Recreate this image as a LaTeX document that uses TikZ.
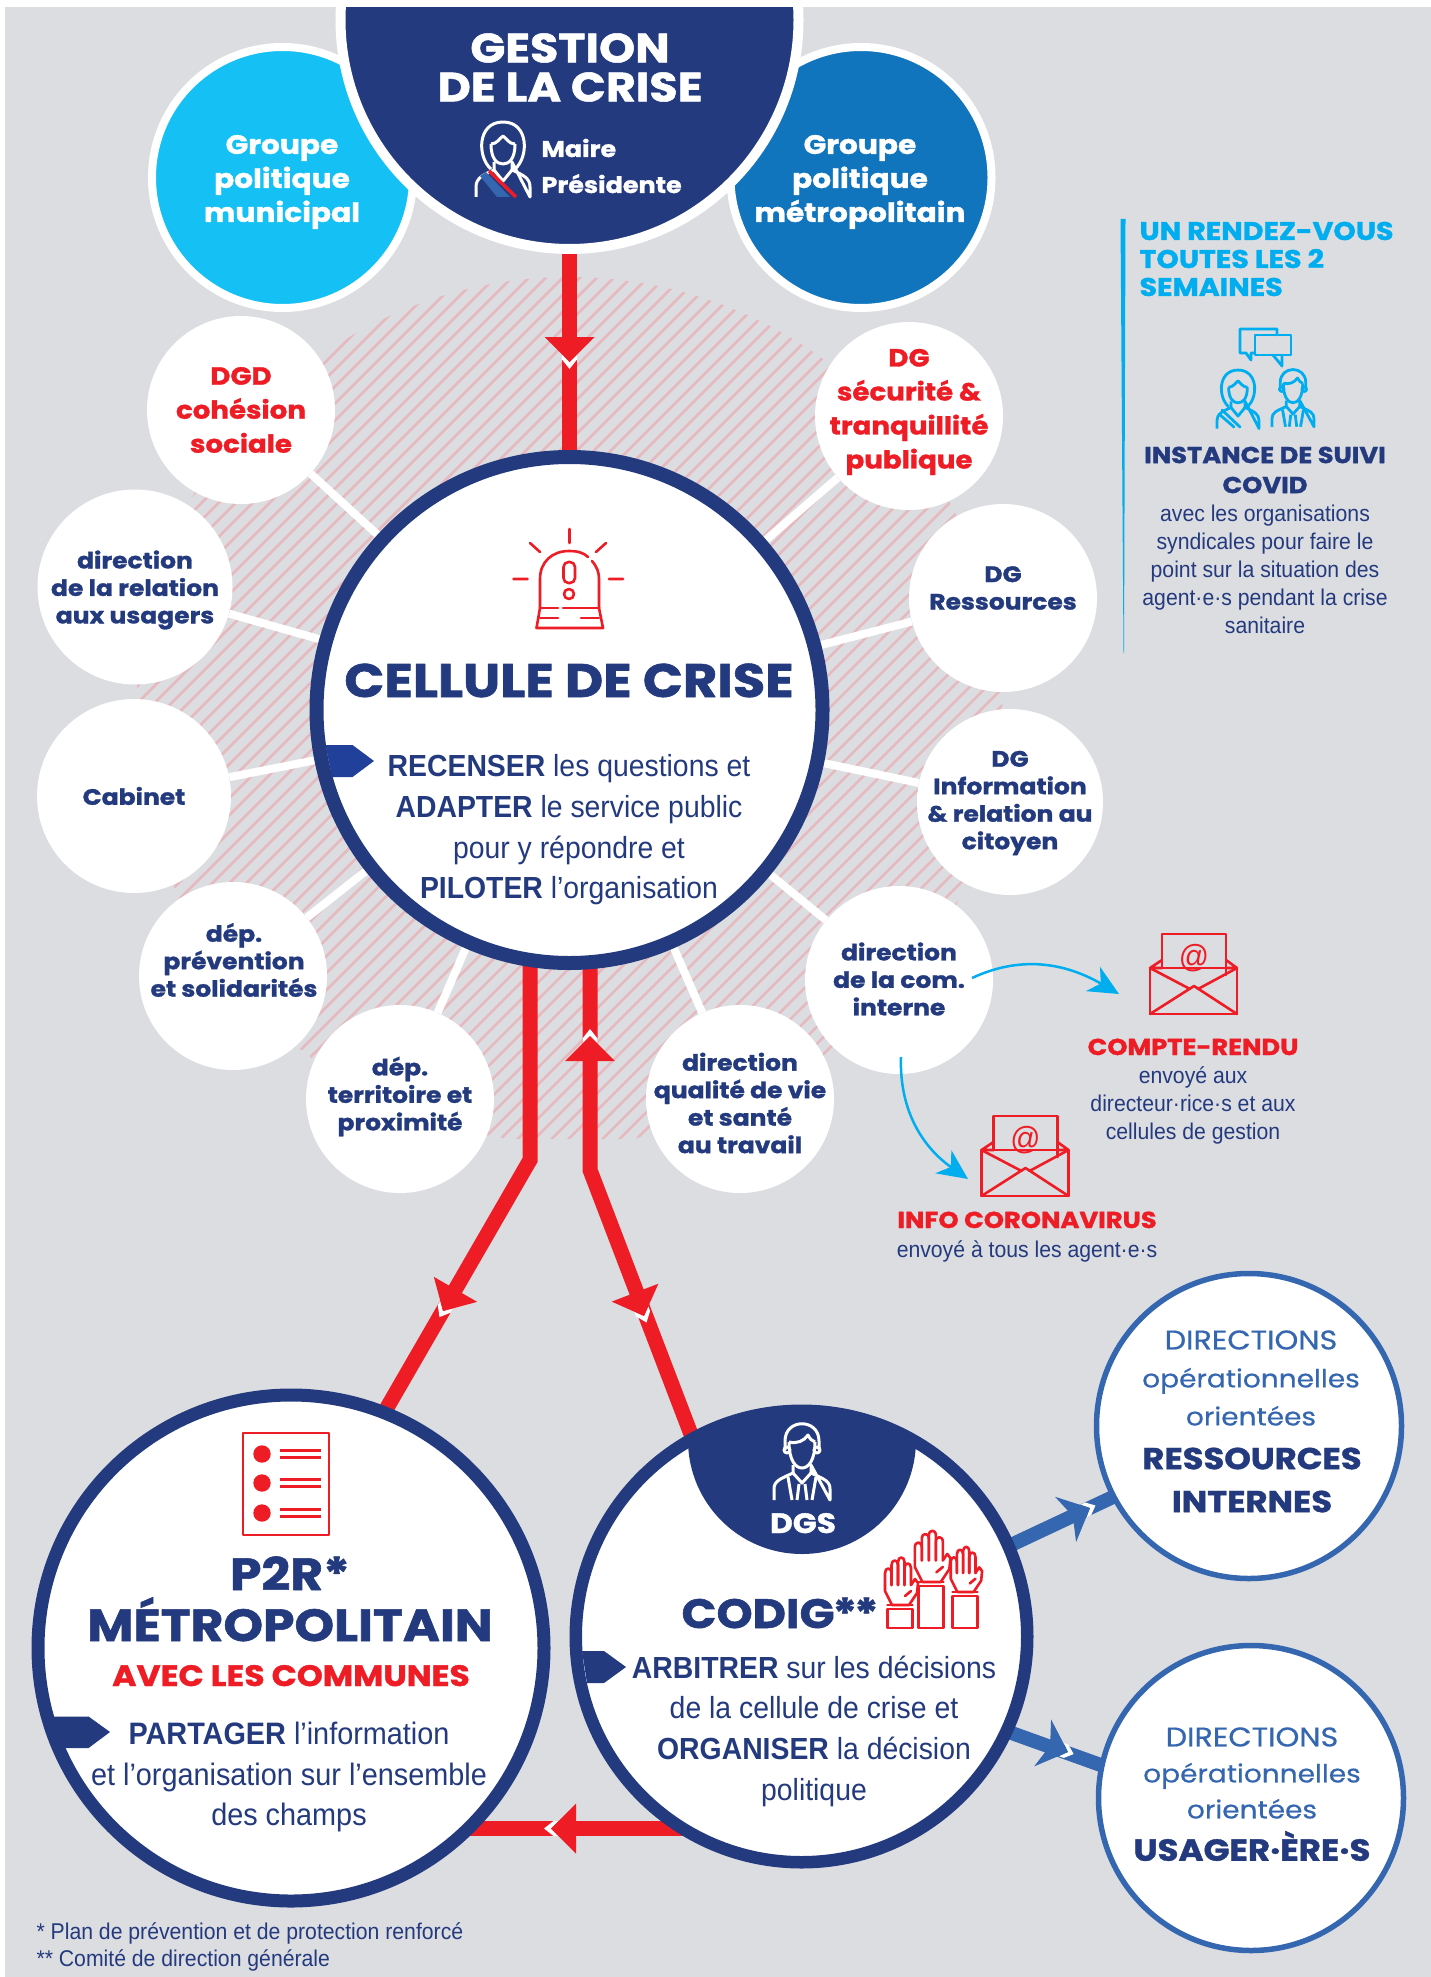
\documentclass[tikz,border=0pt]{standalone}
\usepackage{fontspec}
\setmainfont[FakeStretch=0.93]{Liberation Sans}
\newfontfamily\headfam[FakeStretch=1.12,BoldFeatures={FakeBold=1.3}]{Poppins}
\newfontfamily\mediumfam[FakeStretch=1.12,FakeBold=0.5]{Poppins}
\usetikzlibrary{arrows.meta}
\definecolor{navyc}{HTML}{243A7E}
\definecolor{redc}{HTML}{EE1C25}
\definecolor{skyc}{HTML}{14C0F4}
\definecolor{bluec}{HTML}{1075BD}
\definecolor{ringc}{HTML}{3566B0}
\definecolor{bgc}{HTML}{DCDDE1}
\definecolor{cyanc}{HTML}{00AEEF}
\definecolor{hatchc}{HTML}{E5B9BE}
\definecolor{tagc}{HTML}{21409A}
\newcommand{\heavyfont}[2]{\headfam\bfseries\fontsize{#1}{#2}\selectfont}
\newcommand{\lightfont}[2]{\mediumfam\fontsize{#1}{#2}\selectfont}
\newcommand{\bodyfont}[2]{\fontsize{#1}{#2}\selectfont}
\pgfdeclarelayer{under}
\pgfsetlayers{under,main}
\tikzset{
	topcircle/.style={circle, draw=white, line width=8, minimum size=261, inner sep=0},
	toplabel/.style={text=white, align=center, font=\heavyfont{26.5}{34}},
	smallnode/.style={circle, fill=white, minimum size=188, inner sep=0},
	navylabel/.style={text=navyc, align=center, font=\heavyfont{22.3}{27.5}},
	redlabel/.style={text=redc, align=center, font=\heavyfont{24.7}{34}},
	bignode/.style={circle, draw=navyc, fill=white, line width=14, minimum size=506, inner sep=0},
	dirnode/.style={circle, draw=ringc, fill=white, line width=5.5, minimum size=305, inner sep=0},
	bodytext/.style={text=navyc, align=center, font=\bodyfont{30.5}{40.7}},
	smalltext/.style={text=navyc, align=center, font=\bodyfont{22.8}{28}},
	redline/.style={draw=redc, line width=15, line join=miter},
	blueline/.style={draw=ringc, line width=14},
	spoke/.style={draw=white, line width=8},
	redicon/.style={draw=redc, line width=2.6, line cap=round, line join=round},
	cyanicon/.style={draw=cyanc, line width=2.8, line cap=round, line join=round},
	cyanarrow/.style={draw=cyanc, line width=2.5, -{Stealth[length=30pt,width=28pt,inset=9pt]}},
	redhead/.pic={
		\fill[white] (0,0)--(-7.5,-7.5)--(-2.5,-7.5)--(7,0)--(-2.5,7.5)--(-7.5,7.5)--cycle;
		\fill[redc] (0,0)--(-25,-25)--(-25,25)--cycle;
	},
	bluehead/.pic={
		\fill[white] (0,0)--(-7,-7)--(-2,-7)--(6,0)--(-2,7)--(-7,7)--cycle;
		\fill[ringc] (0,0)--(-27,-25)--(-19,0)--(-27,25)--cycle;
	},
	envelope/.pic={
		\draw[redicon] (-44,-18) rectangle (43,28);
		\draw[redicon] (-32,-18)--(-32,-52)--(32,-52)--(32,-11);
		\draw[redicon] (-44,-18)--(-4,3) (43,-18)--(4,3);
		\draw[redicon] (-44,28)--(0,0)--(43,28);
		\draw[redicon] (-44,-18)--(-32,-26) (43,-18)--(32,-26) (-40,-18)--(-32,-18) (39,-18)--(32,-18);
		\node[text=redc, font=\bodyfont{32}{32}] (-at) at (0,-28) {@};
	},
	manicon/.pic={
		\draw[pic actions] (-13,-5) .. controls (-13,14) and (-6,21) .. (0,21) .. controls (6,21) and (13,14) .. (13,-5);
		\draw[pic actions] (-17,3)--(-17,-6) .. controls (-17,-29) and (17,-29) .. (17,-6)--(17,3);
		\draw[pic actions] (-13,-5) .. controls (-5,-3) and (2,-6) .. (6,-12) .. controls (8,-8) and (10,-6) .. (13,-5);
		\draw[pic actions] (-15,3) circle (3) (15,3) circle (3);
		\draw[pic actions] (-28,53)--(-28,42) .. controls (-28,34) and (-22,32) .. (-9,26)--(-9,18) (9,18)--(9,26) .. controls (22,32) and (28,34) .. (28,42)--(28,53)--cycle;
		\draw[pic actions] (-9,26)--(0,36)--(9,26) (-3,37)--(-5,53) (3,37)--(5,53) (-14,30)--(-10,53) (14,30)--(10,53);
	},
	womanicon/.pic={
		\draw[pic actions] (-12,24) .. controls (-26,12) and (-26,-23) .. (0,-23) .. controls (26,-23) and (26,12) .. (12,24);
		\draw[pic actions] (-12,-1) .. controls (-12,14) and (-6,19) .. (0,19) .. controls (6,19) and (12,14) .. (12,-1);
		\draw[pic actions] (-12,-1) .. controls (-6,-1) and (-3,-7) .. (0,-9) .. controls (3,-7) and (6,-1) .. (12,-1);
		\draw[pic actions] (-27,52)--(-27,42) .. controls (-27,33) and (-20,30) .. (-9,25)--(-9,17) (9,17)--(9,25) .. controls (20,30) and (27,33) .. (27,42)--(27,52)--cycle;
		\draw[pic actions] (-9,25)--(0,36)--(9,25);
	},
	handicon/.pic={
		\foreach \fa/\fh in {-15/-32,-8.5/-40,-2/-43,4.5/-37}{
			\draw[redicon] (\fa,-20)--(\fa,\fh) .. controls (\fa,\fh-6) and ({\fa+6.5},\fh-6) .. ({\fa+6.5},\fh)--({\fa+6.5},-20);
		}
		\draw[redicon] (-15,-20)--(-15,-14)--(-8,0)--(9,0)--(17,-12)--(18,-22)--(15,-26)--(11,-20);
		\draw[redicon] (11,-14)--(5,-9);
	}
}
\begin{document}
\begin{tikzpicture}[x=1pt, y=-1pt, line join=round, >=stealth]
	\useasboundingbox (0,0) rectangle (1431,1977);

	\node[topcircle, fill=skyc] (municipal) at (282.5,177.5) {};
	\node[topcircle, fill=bluec] (metro) at (861,177.5) {};
	\node[toplabel] (municipaltext) at (282,182) {Groupe\\politique\\municipal};
	\node[toplabel] (metrotext) at (860,182) {Groupe\\politique\\métropolitain};
	\node[circle, draw=white, fill=navyc, line width=10, minimum size=458, inner sep=0] (gestion) at (569.5,20) {};
	\fill[white] (0,0) rectangle (1431,7);
	\node[text=white, align=center, font=\heavyfont{41}{39}] (gestiontitle) at (570,67.5) {GESTION\\DE LA CRISE};
	\node[anchor=base west, text=white, font=\heavyfont{22.7}{22}] (maire) at (538,157) {Maire};
	\node[anchor=base west, text=white, font=\heavyfont{22.7}{22}] (presidente) at (538,193) {Présidente};
	\pic[draw=white, line width=3] (maireicon) at (503,145) {womanicon};
	\fill[ringc] (480,176)--(486,172)--(510,197)--(497,197)--cycle;
	\draw[redc, line width=3.5] (489,171)--(516,197);

	\node[smallnode] (dgd) at (241,410) {};
	\node[smallnode] (securite) at (909,416) {};
	\node[smallnode, minimum size=195] (relation) at (135,587) {};
	\node[smallnode] (ressources) at (1003,598) {};
	\node[smallnode, minimum size=194] (cabinet) at (134,796) {};
	\node[smallnode, minimum size=186] (information) at (1010,802) {};
	\node[smallnode] (prevention) at (233,976) {};
	\node[smallnode] (cominterne) at (899,980) {};
	\node[smallnode] (territoire) at (400,1099) {};
	\node[smallnode] (qualite) at (740,1099) {};

	\node[redlabel] (dgdtext) at (241,410) {DGD\\cohésion\\sociale};
	\node[redlabel] (securitetext) at (909,412) {DG\\sécurité \&\\tranquillité\\publique};
	\node[navylabel] (relationtext) at (135,590) {direction\\de la relation\\aux usagers};
	\node[navylabel] (ressourcestext) at (1003,588) {DG\\Ressources};
	\node[navylabel] (cabinettext) at (134,796) {Cabinet};
	\node[navylabel] (informationtext) at (1010,803) {DG\\Information\\\& relation au\\citoyen};
	\node[navylabel] (preventiontext) at (234,960) {dép.\\prévention\\et solidarités};
	\node[navylabel] (cominternetext) at (899,979) {direction\\de la com.\\interne};
	\node[navylabel] (territoiretext) at (400,1096.5) {dép.\\territoire et\\proximité};
	\node[navylabel] (qualitetext) at (740,1103) {direction\\qualité de vie\\et santé\\au travail};

	\node[bignode] (cellule) at (569.5,710) {};
	\node[bignode, line width=13] (p2r) at (291,1648) {};
	\node[bignode, line width=12.5, minimum size=451.5] (codig) at (801.5,1636.5) {};
	\node[dirnode] (dirressources) at (1249,1426) {};
	\node[dirnode] (dirusagers) at (1251,1798) {};

	\coordinate (leftstart) at (530,940);
	\coordinate (leftbend) at (530,1160);
	\coordinate (leftend) at (377.6,1424);
	\coordinate (rightstart) at (590,940);
	\coordinate (rightbend) at (590,1170);
	\coordinate (rightend) at (697,1450);
	\coordinate (hbarright) at (700,1828.5);
	\coordinate (hbarleft) at (400,1828.5);

	\begin{pgfonlayer}{under}
		\fill[bgc] (5,7) rectangle (1431,1977);
		\begin{scope}
			\clip (569.5,710) circle (433);
			\clip (100,250) rectangle (1040,1138);
			\foreach \i in {-1000,-983,...,1000}{
				\draw[hatchc, line width=2.5] ({569.5+\i-450},1160)--({569.5+\i+450},260);
			}
		\end{scope}
		\foreach \n in {dgd,securite,relation,ressources,cabinet,information,prevention,cominterne,territoire,qualite}{
			\draw[spoke] (cellule)--(\n);
		}
		\draw[redline] (gestion)--(cellule);
		\draw[redline] (leftstart)--(leftbend)--(leftend);
		\draw[redline] (rightstart)--(rightbend)--(rightend);
		\draw[redline] (hbarright)--(hbarleft);
		\draw[blueline] ([yshift=-7]codig.center)--([yshift=-7]dirressources.center);
		\draw[blueline] ([yshift=-21]codig.center)--([yshift=-21]dirusagers.center);
	\end{pgfonlayer}

	\pic at (569.5,362) [rotate=-90] {redhead};
	\pic at (590,1036) [rotate=90] {redhead};
	\pic at (443,1311) [rotate=-120] {redhead};
	\pic at (644,1316) [rotate=-69] {redhead};
	\pic at (551,1828.5) [rotate=180] {redhead};
	\pic at (1090,1508) [rotate=25] {bluehead};
	\pic at (1068,1752) [rotate=-19.8] {bluehead};

	\draw[redicon] (569.5,529)--(569.5,543) (530,543)--(540,552) (606,543)--(596,552) (513.5,579)--(527.5,579) (609,579)--(623,579);
	\draw[redicon] (540,608)--(540,579) .. controls (540,562) and (552,551) .. (569,551) .. controls (578,551) and (584,553) .. (588,557);
	\draw[redicon] (592,561) .. controls (597,567) and (599,572) .. (599,579)--(599,608);
	\draw[redicon] (540,608)--(536.5,628)--(603,628)--(599,608);
	\draw[redicon] (540,608)--(558,608) (563,608)--(599,608) (540,618)--(558,618) (581,618)--(599,618);
	\draw[redicon, rounded corners=5] (563.5,583)--(563.5,562)--(575,562)--(575,583)--cycle;
	\draw[redicon] (569,594) circle (5);
	\node[text=navyc, font=\heavyfont{47}{47}, anchor=base] (celluletitle) at (569,697) {CELLULE DE CRISE};
	\fill[tagc] (325.5,745)--(352.5,745)--(374,761)--(352.5,777)--(332,777)--cycle;
	\node[bodytext] (cellulebody) at (569,830) {\textbf{RECENSER} les questions et\\\textbf{ADAPTER} le service public\\pour y répondre et\\\textbf{PILOTER} l’organisation};

	\draw[redicon] (243,1433) rectangle (329,1535);
	\foreach \ly in {1454,1483,1513}{
		\fill[redc] (262,\ly) circle (8.7);
		\draw[redc, line width=2.6] (280,\ly-3.5)--(321,\ly-3.5) (280,\ly+3.5)--(321,\ly+3.5);
	}
	\node[text=navyc, font=\heavyfont{45}{45}, anchor=base] (p2rtitle) at (290,1590) {P2R*};
	\node[text=navyc, font=\heavyfont{45}{45}, anchor=base] (p2rmetro) at (290,1641) {MÉTROPOLITAIN};
	\node[text=redc, font=\heavyfont{29.5}{30}, anchor=base] (p2rcommunes) at (291,1686) {AVEC LES COMMUNES};
	\fill[navyc] (51,1716.5)--(88.6,1716.5)--(110,1732)--(88.6,1748)--(62,1748)--cycle;
	\node[bodytext, font=\bodyfont{31}{40.7}] (p2rbody) at (289,1777) {\textbf{PARTAGER} l’information\\et l’organisation sur l’ensemble\\des champs};

	\begin{scope}
		\clip (801.5,1636.5) circle (226);
		\fill[navyc] (802,1440) circle (114);
	\end{scope}
	\pic[draw=white, line width=3] (dgsicon) at (802,1447) {manicon};
	\node[text=white, font=\heavyfont{28}{27}, anchor=base] (dgs) at (803,1533) {DGS};
	\node[text=navyc, font=\heavyfont{41}{42}, anchor=base west] (codigtitle) at (678,1628) {CODIG\kern-2pt*\kern-3pt*};
	\foreach \hx/\hy/\hs in {900/1605/1,931/1582/1.08,965/1592/0.95}{
		\pic[scale=\hs] at (\hx,\hy) {handicon};
		\draw[redicon] ({\hx-12.5},\hy+4) rectangle ({\hx+12.5},1628);
		\draw[redicon] ({\hx-12.5},\hy) -- ({\hx+12.5},\hy);
	}
	\fill[navyc] (582,1651)--(604,1651)--(626,1667)--(604,1683)--(587,1683)--cycle;
	\node[bodytext] (codigbody) at (814,1731) {\textbf{ARBITRER} sur les décisions\\de la cellule de crise et\\\textbf{ORGANISER} la décision\\politique};

	\node[text=ringc, align=center, font=\lightfont{25}{38}] (ressourceslight) at (1251,1378) {{\fontsize{27}{38}\selectfont DIRECTIONS}\\opérationnelles\\orientées};
	\node[text=navyc, align=center, font=\heavyfont{30.2}{43}] (ressourcesbold) at (1252,1480) {RESSOURCES\\INTERNES};
	\node[text=ringc, align=center, font=\lightfont{25}{36}] (usagerslight) at (1252,1773) {{\fontsize{27}{36}\selectfont DIRECTIONS}\\opérationnelles\\orientées};
	\node[text=navyc, font=\heavyfont{30.4}{29}] (usagersbold) at (1252,1846) {USAGER·ÈRE·S};

	\fill[cyanc] (1120.5,219)--(1125.5,219)--(1124,653)--(1123.5,653)--cycle;
	\node[anchor=west, text=cyanc, align=left, font=\heavyfont{25.5}{28}] (rendezvous) at (1136,259) {UN RENDEZ-VOUS\\TOUTES LES 2\\SEMAINES};
	\draw[cyanicon] (1255,353)--(1251,353)--(1251,360)--(1246,353)--(1240,353)--(1240,329)--(1277,329)--(1277,335);
	\draw[cyanicon] (1255,335) rectangle (1291,355);
	\draw[cyanicon] (1273,355)--(1282,366)--(1282,355);
	\pic[draw=cyanc, line width=2.8, scale=0.78] (womanchat) at (1238,388) {womanicon};
	\pic[draw=cyanc, line width=2.8, scale=0.75] (manchat) at (1293,387) {manicon};
	\draw[cyanicon] (1222,410)--(1240,427) (1219,414)--(1234,427);
	\node[text=navyc, align=center, font=\heavyfont{23}{30}] (instance) at (1265,470) {INSTANCE DE SUIVI\\COVID};
	\node[smalltext] (instancebody) at (1265,569) {avec les organisations\\syndicales pour faire le\\point sur la situation des\\agent·e·s pendant la crise\\sanitaire};

	\pic (mailA) at (1194,986) {envelope};
	\pic (mailB) at (1025.5,1168) {envelope};
	\coordinate (comA) at (972,978);
	\coordinate (comB) at (901,1057);
	\coordinate (mailtipA) at (1119,994);
	\coordinate (mailtipB) at (968,1179);
	\draw[cyanarrow] (comA) to[out=25, in=150] (mailtipA);
	\draw[cyanarrow] (comB) to[out=-92, in=145] (mailtipB);
	\node[text=redc, font=\heavyfont{23}{23}, anchor=base] (compterendu) at (1193,1055) {COMPTE-RENDU};
	\node[smalltext] (comptebody) at (1193,1105) {envoyé aux\\directeur·rice·s et aux\\cellules de gestion};
	\node[text=redc, font=\heavyfont{23}{23}, anchor=base] (infocorona) at (1027,1228) {INFO CORONAVIRUS};
	\node[smalltext, anchor=base] (infobody) at (1027,1257) {envoyé à tous les agent·e·s};

	\node[anchor=base west, smalltext, text=navyc] (noteA) at (33,1939) {* Plan de prévention et de protection renforcé};
	\node[anchor=base west, smalltext, text=navyc] (noteB) at (33,1966) {** Comité de direction générale};
\end{tikzpicture}
\end{document}
